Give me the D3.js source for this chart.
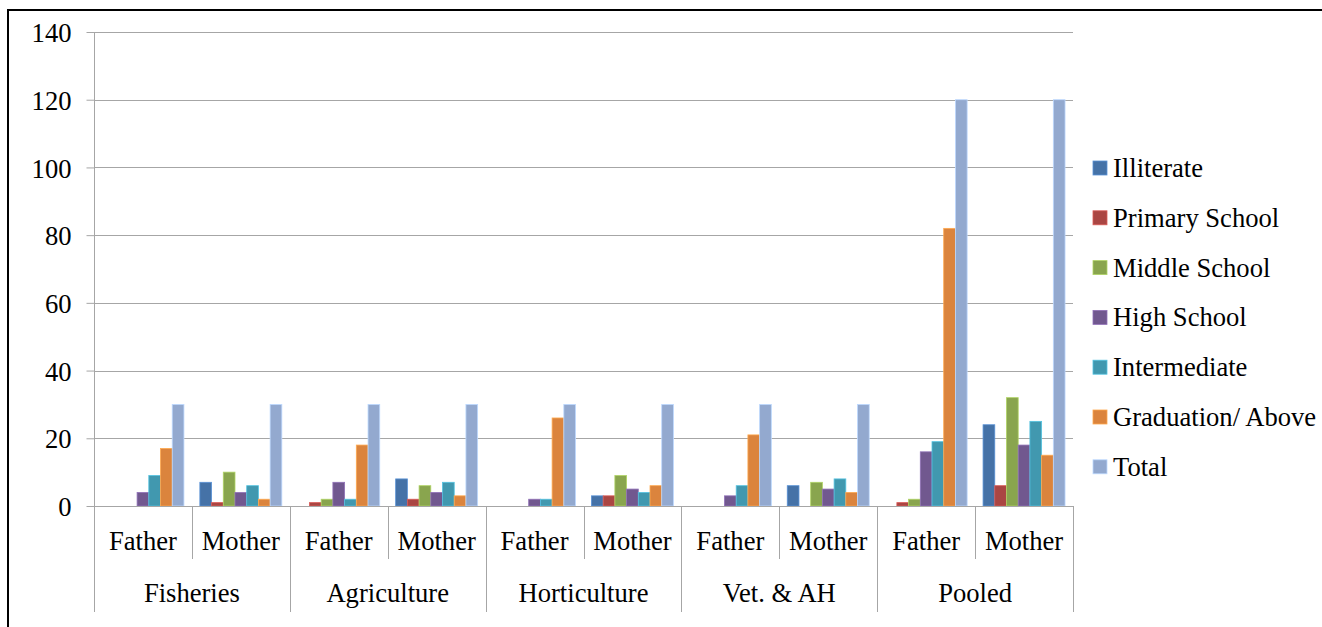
<!DOCTYPE html>
<html>
<head>
<meta charset="utf-8">
<script src="https://cdn.jsdelivr.net/npm/d3@7"></script>
<style>
  html, body { margin: 0; padding: 0; background: #fff; }
  svg { display: block; }
</style>
</head>
<body>
<svg id="chart" width="1322" height="627"></svg>
<script>
// Sectors and parent roles along the category axis
const sectors = ["Fisheries", "Agriculture", "Horticulture", "Vet. & AH", "Pooled"];
const parents = ["Father", "Mother"];

// Education levels (one bar series each)
const seriesNames = ["Illiterate", "Primary School", "Middle School", "High School",
                     "Intermediate", "Graduation/ Above", "Total"];
const seriesColors = ["#4572A7", "#AA4643", "#89A54E", "#71588F", "#4198AF", "#DB843D", "#93A9CF"];

// Values per series, ordered Fisheries F/M, Agriculture F/M, Horticulture F/M, Vet. & AH F/M, Pooled F/M
const illiterate   = [0, 7, 0, 8, 0, 3, 0, 6, 0, 24];
const primary      = [0, 1, 1, 2, 0, 3, 0, 0, 1, 6];
const middle       = [0, 10, 2, 6, 0, 9, 0, 7, 2, 32];
const high         = [4, 4, 7, 4, 2, 5, 3, 5, 16, 18];
const intermediate = [9, 6, 2, 7, 2, 4, 6, 8, 19, 25];
const graduation   = [17, 2, 18, 3, 26, 6, 21, 4, 82, 15];
const total        = [30, 30, 30, 30, 30, 30, 30, 30, 120, 120];

const yTicks = [0, 20, 40, 60, 80, 100, 120, 140];

const seriesValues = [illiterate, primary, middle, high, intermediate, graduation, total];

const svg = d3.select("#chart");
const FONT = 26.6;
const SERIF = "Liberation Serif";

// Outer frame (top and left edges visible inside the page)
svg.append("rect")
  .attr("x", 8).attr("y", 10)
  .attr("width", 1400).attr("height", 800)
  .attr("fill", "none").attr("stroke", "#000").attr("stroke-width", 2);

const plot = { left: 94, right: 1073, top: 32, bottom: 506 };

const y = d3.scaleLinear().domain([0, 140]).range([plot.bottom, plot.top]);

const subKeys = [];
sectors.forEach(s => parents.forEach(p => subKeys.push(s + "|" + p)));

const x0 = d3.scaleBand().domain(subKeys).range([plot.left, plot.right]);
const x1 = d3.scaleBand().domain(seriesNames).range([0, x0.bandwidth()])
  .paddingInner(0).paddingOuter(0.68);
const xSector = d3.scaleBand().domain(sectors).range([plot.left, plot.right]);

const gridColor = "#a6a6a6";

// Horizontal gridlines
svg.append("g").selectAll("line")
  .data(yTicks.filter(d => d > 0))
  .join("line")
  .attr("x1", plot.left).attr("x2", plot.right)
  .attr("y1", d => Math.round(y(d)) + 0.5).attr("y2", d => Math.round(y(d)) + 0.5)
  .attr("stroke", gridColor).attr("stroke-width", 1);

// Y axis
const yAxis = d3.axisLeft(y).tickValues(yTicks).tickSize(8).tickPadding(15)
  .tickFormat(d3.format("d"));
const gy = svg.append("g")
  .attr("transform", `translate(${plot.left + 0.5},0)`)
  .call(yAxis)
  .attr("font-family", SERIF)
  .attr("font-size", FONT);
gy.select(".domain").attr("stroke", gridColor).attr("d", `M0,${plot.top}V${plot.bottom}`);
gy.selectAll(".tick line").attr("stroke", gridColor);
gy.selectAll(".tick text")
  .attr("dy", "0.36em")
  .attr("fill", "#000");

// Bars
const groups = svg.append("g").selectAll("g")
  .data(subKeys)
  .join("g")
  .attr("transform", d => `translate(${x0(d)},0)`);

groups.selectAll("rect")
  .data((d, i) => seriesNames.map((name, si) => ({ name, value: seriesValues[si][i], color: seriesColors[si] })))
  .join("rect")
  .attr("x", d => x1(d.name))
  .attr("width", x1.bandwidth())
  .attr("y", d => y(d.value))
  .attr("height", d => y(0) - y(d.value))
  .attr("fill", d => d.color)
  .attr("stroke", d => d3.color(d.color).brighter(0.7))
  .attr("stroke-width", d => d.value > 0 ? 0.8 : 0);

// Category axis: baseline, dividers and labels
const cat = svg.append("g").attr("font-family", SERIF).attr("font-size", FONT);
cat.append("line")
  .attr("x1", plot.left).attr("x2", plot.right)
  .attr("y1", plot.bottom + 0.5).attr("y2", plot.bottom + 0.5)
  .attr("stroke", gridColor);

// Sector boundaries run down through both label rows
const sectorEdges = sectors.map(s => xSector(s)).concat([plot.right]);
cat.selectAll("line.sector")
  .data(sectorEdges)
  .join("line")
  .attr("class", "sector")
  .attr("x1", d => Math.round(d) + 0.5).attr("x2", d => Math.round(d) + 0.5)
  .attr("y1", plot.bottom).attr("y2", 612)
  .attr("stroke", gridColor);

// Father/Mother dividers within each sector
cat.selectAll("line.parent")
  .data(sectors.map(s => xSector(s) + xSector.bandwidth() / 2))
  .join("line")
  .attr("class", "parent")
  .attr("x1", d => Math.round(d) + 0.5).attr("x2", d => Math.round(d) + 0.5)
  .attr("y1", plot.bottom).attr("y2", 559)
  .attr("stroke", gridColor);

cat.selectAll("text.parent")
  .data(subKeys)
  .join("text")
  .attr("class", "parent")
  .attr("x", d => x0(d) + x0.bandwidth() / 2)
  .attr("y", 550)
  .attr("text-anchor", "middle")
  .text(d => d.split("|")[1]);

cat.selectAll("text.sector")
  .data(sectors)
  .join("text")
  .attr("class", "sector")
  .attr("x", d => xSector(d) + xSector.bandwidth() / 2)
  .attr("y", 602)
  .attr("text-anchor", "middle")
  .text(d => d);

// Legend
const legend = svg.append("g")
  .attr("transform", "translate(1093,168)")
  .attr("font-family", SERIF)
  .attr("font-size", FONT);
const items = legend.selectAll("g")
  .data(seriesNames)
  .join("g")
  .attr("transform", (d, i) => `translate(0,${i * 49.8})`);
items.append("rect")
  .attr("x", 0).attr("y", -7)
  .attr("width", 14).attr("height", 14)
  .attr("fill", (d, i) => seriesColors[i])
  .attr("stroke", (d, i) => d3.color(seriesColors[i]).brighter(0.7))
  .attr("stroke-width", 0.8);
items.append("text")
  .attr("x", 20).attr("y", 9)
  .text(d => d);
</script>
</body>
</html>
